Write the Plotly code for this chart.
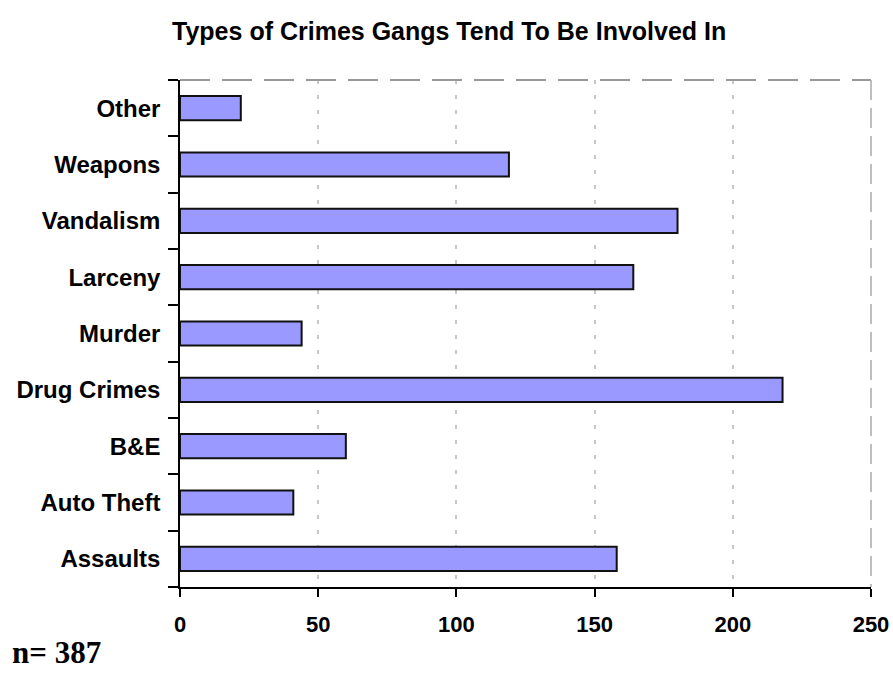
import plotly.graph_objects as go

categories = ["Assaults", "Auto Theft", "B&E", "Drug Crimes", "Murder",
              "Larceny", "Vandalism", "Weapons", "Other"]
values = [158, 41, 60, 218, 44, 164, 180, 119, 22]
x_ticks = [0, 50, 100, 150, 200, 250]
title_text = "Types of Crimes Gangs Tend To Be Involved In"
note_text = "n= 387"

sans = "Liberation Sans, Arial, sans-serif"

fig = go.Figure(go.Bar(
    x=values, y=categories, orientation="h",
    marker=dict(color="#9999FF", line=dict(color="#111111", width=2)),
    width=0.43,
))

fig.update_layout(
    width=893, height=675,
    margin=dict(l=180, r=22, t=80, b=88),
    paper_bgcolor="white", plot_bgcolor="white",
    showlegend=False,
    title=dict(text="<b>" + title_text + "</b>", x=0.503, xanchor="center",
               y=1 - 31 / 675, yanchor="middle",
               font=dict(family=sans, size=25, color="black")),
    font=dict(family=sans, size=22, color="black"),
)

fig.update_xaxes(
    range=[0, 250], tickvals=x_ticks, ticktext=["<b>%d</b>" % v for v in x_ticks],
    showgrid=True, gridcolor="#C8C8C8", gridwidth=2, griddash="4px,11px",
    showline=True, linecolor="black", linewidth=1.5,
    ticks="outside", ticklen=8, tickcolor="black", tickwidth=1.5,
    ticklabelstandoff=9,
    tickfont=dict(family=sans, size=22, color="black"),
    zeroline=False, fixedrange=True, automargin=False,
)
fig.update_yaxes(
    categoryorder="array", categoryarray=categories,
    ticktext=["<b>%s</b>" % c for c in categories], tickvals=categories,
    tickson="boundaries",
    showline=True, linecolor="black", linewidth=1.5,
    ticks="outside", ticklen=10, tickcolor="black", tickwidth=1.5,
    ticklabelstandoff=13,
    tickfont=dict(family=sans, size=24, color="black"),
    showgrid=False, zeroline=False, range=[-0.5, 8.5], automargin=False,
    fixedrange=True,
)

fig.add_shape(type="line", xref="paper", yref="paper", x0=0, x1=1, y0=1, y1=1,
              line=dict(color="#999999", width=2, dash="30px,12px"))
fig.add_shape(type="line", xref="paper", yref="paper", x0=1, x1=1, y0=1, y1=0,
              line=dict(color="#AAAAAA", width=1.5, dash="20px,8px"))

fig.add_annotation(text="<b>" + note_text + "</b>", xref="paper", yref="paper",
                   x=-170 / 691, y=-(652 - 587) / 507, xanchor="left", yanchor="middle",
                   showarrow=False,
                   font=dict(family="Liberation Serif, Times New Roman, serif", size=31, color="black"))

fig.write_html("out.html", config={"displayModeBar": False},
               post_script="document.body.style.margin='0';")
